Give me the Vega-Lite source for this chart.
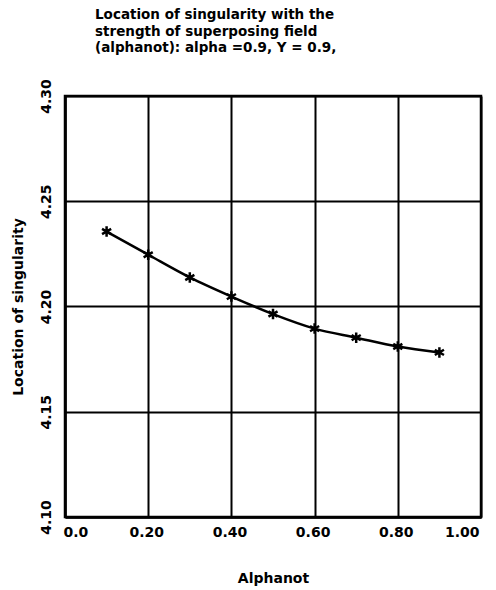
{
  "$schema": "https://vega.github.io/schema/vega-lite/v6.json",
  "width": 416,
  "height": 421,
  "autosize": "none",
  "padding": {"left": 65, "top": 96, "right": 15, "bottom": 73},
  "background": "white",
  "config": {
    "font": "DejaVu Sans",
    "view": {"stroke": "black", "strokeWidth": 2.5}
  },
  "title": {
    "text": ["Location of singularity with the", "strength of superposing field", "(alphanot): alpha =0.9, Y =  0.9,"],
    "anchor": "start",
    "frame": "group",
    "align": "left",
    "dx": 30,
    "offset": 24,
    "fontSize": 13.5,
    "fontWeight": "bold",
    "font": "DejaVu Sans",
    "color": "black",
    "lineHeight": 16.5
  },
  "data": {
    "values": [
      {"alphanot": 0.1, "location": 4.2356},
      {"alphanot": 0.2, "location": 4.2246},
      {"alphanot": 0.3, "location": 4.2138},
      {"alphanot": 0.4, "location": 4.2047},
      {"alphanot": 0.5, "location": 4.1964},
      {"alphanot": 0.6, "location": 4.1895},
      {"alphanot": 0.7, "location": 4.1852},
      {"alphanot": 0.8, "location": 4.1810},
      {"alphanot": 0.9, "location": 4.1782}
    ]
  },
  "encoding": {
    "x": {
      "field": "alphanot",
      "type": "quantitative",
      "scale": {"domain": [0, 1], "nice": false, "zero": false},
      "axis": {
        "title": "Alphanot",
        "values": [0, 0.2, 0.4, 0.6, 0.8, 1.0],
        "labelExpr": "datum.value == 0 ? '0.0' : format(datum.value, '.2f')",
        "labelFont": "DejaVu Sans",
        "labelFontSize": 14,
        "labelFontWeight": "bold",
        "labelColor": "black",
        "labelPadding": 8,
        "labelFlush": true,
        "labelOffset": -2,
        "ticks": false,
        "grid": true,
        "gridColor": "black",
        "gridWidth": 2,
        "gridOpacity": 1,
        "domain": true,
        "domainColor": "black",
        "domainWidth": 2.5,
        "titleFont": "DejaVu Sans",
        "titleFontSize": 14,
        "titleFontWeight": "bold",
        "titleColor": "black",
        "titlePadding": 32
      }
    },
    "y": {
      "field": "location",
      "type": "quantitative",
      "scale": {"domain": [4.1, 4.3], "nice": false, "zero": false},
      "axis": {
        "title": "Location of  singularity",
        "values": [4.1, 4.15, 4.2, 4.25, 4.3],
        "format": ".2f",
        "labelFont": "DejaVu Sans",
        "labelFontSize": 14,
        "labelFontWeight": "bold",
        "labelColor": "black",
        "labelAngle": 270,
        "labelAlign": "center",
        "labelBaseline": "bottom",
        "labelPadding": 12,
        "labelFlush": false,
        "ticks": false,
        "grid": true,
        "gridColor": "black",
        "gridWidth": 2,
        "gridOpacity": 1,
        "domain": true,
        "domainColor": "black",
        "domainWidth": 2.5,
        "titleFont": "DejaVu Sans",
        "titleFontSize": 14,
        "titleFontWeight": "bold",
        "titleColor": "black",
        "titlePadding": 14
      }
    }
  },
  "layer": [
    {
      "mark": {"type": "line", "interpolate": "monotone", "color": "black", "strokeWidth": 2.5}
    },
    {
      "mark": {
        "type": "point",
        "shape": "M0,-1L0,1M-0.87,-0.5L0.87,0.5M-0.87,0.5L0.87,-0.5",
        "size": 110,
        "filled": false,
        "stroke": "black",
        "strokeWidth": 2.5,
        "opacity": 1
      }
    }
  ]
}
